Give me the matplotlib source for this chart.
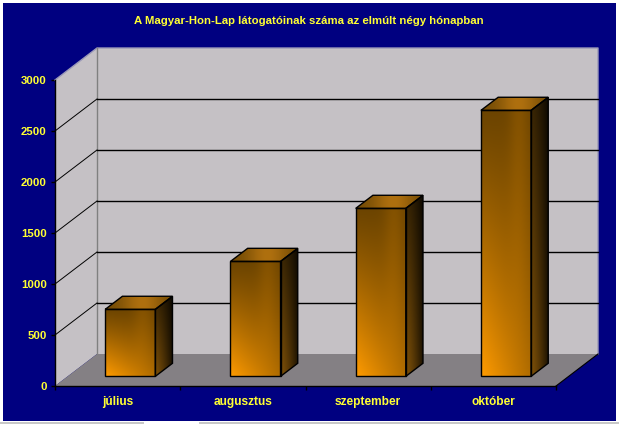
import numpy as np
import matplotlib
matplotlib.use("Agg")
import matplotlib.pyplot as plt
from matplotlib.patches import Polygon, Rectangle

months = ["július", "augusztus", "szeptember", "október"]
visitors = [657, 1127, 1647, 2608]
y_ticks = [0, 500, 1000, 1500, 2000, 2500, 3000]
title = "A Magyar-Hon-Lap látogatóinak száma az elmúlt négy hónapban"

W, H = 619, 424
NAVY = "#000080"
WALL = "#c5c1c5"
FLOOR = "#848084"
YELLOW = "#ffff33"

plt.rcParams["font.family"] = ["Liberation Sans", "DejaVu Sans"]
plt.rcParams["font.weight"] = "bold"


def box(x0, y_top, x1, y_bot):
    # pixel box -> figure fraction rect
    return [x0 / W, 1 - y_bot / H, (x1 - x0) / W, (y_bot - y_top) / H]


def lerp(a, b, t):
    a = np.array(a, dtype=float) / 255
    b = np.array(b, dtype=float) / 255
    return np.clip(a + (b - a) * t[..., None], 0, 1)


fig = plt.figure(figsize=(W / 100, H / 100), dpi=100, facecolor="white")
l, b, w, h = box(3, 3, 615.5, 420.5)
fig.add_artist(Rectangle((l, b), w, h, transform=fig.transFigure, fc=NAVY, ec="none", zorder=-2))
for x0, x1 in [(0, 144), (199, 619)]:
    l, b, w, h = box(x0, 422, x1, 424)
    fig.add_artist(Rectangle((l, b), w, h, transform=fig.transFigure, fc="#c8c8c8", ec="none", zorder=-2))

# the axes is the front plane of the 3d box
ax = fig.add_axes(box(55, 80, 556, 386))
ax.patch.set_visible(False)
ax.set_xlim(0, 4)
ax.set_ylim(0, 3000)

depth_x = 42 / 125.25
depth_y = 32 / 0.102
n = len(months)
top = y_ticks[-1]

# walls and floor
ax.add_patch(Polygon([(0, 0), (depth_x, depth_y), (depth_x, top + depth_y), (0, top)],
                     fc=WALL, ec="none", clip_on=False, zorder=1))
ax.add_patch(Rectangle((depth_x, depth_y), n, top, fc=WALL, ec="none", clip_on=False, zorder=1))
ax.add_patch(Polygon([(0, 0), (n, 0), (n + depth_x, depth_y), (depth_x, depth_y)],
                     fc=FLOOR, ec="none", clip_on=False, zorder=1.5))

# outline of the walls
ax.plot([0, depth_x, n + depth_x, n + depth_x], [top, top + depth_y, top + depth_y, depth_y],
        color="#9a98b8", lw=1, clip_on=False, zorder=2)
ax.plot([depth_x, depth_x], [depth_y, top + depth_y], color="#808080", lw=1, clip_on=False, zorder=2)
ax.plot([n, n + depth_x], [0, depth_y], color="black", lw=0.8, clip_on=False, zorder=2)

for v in y_ticks[1:-1]:
    ax.plot([0, depth_x], [v, v + depth_y], color="black", lw=0.7, clip_on=False, zorder=2)
    ax.plot([depth_x, n + depth_x], [v + depth_y, v + depth_y], color="black", lw=1, clip_on=False, zorder=2)

# bars
bar_w = 0.4
shift_x = 0.30
shift_y = 0.30
bar_depth = 0.41
u = np.linspace(0, 1, 60)
v = np.linspace(0, 1, 120)
uu, vv = np.meshgrid(u, v)
front = lerp((108, 68, 0), (255, 155, 0),
             (1 - vv) ** 1.15 * (1 - 0.55 * uu) + 0.16 * np.exp(-((uu - 0.75) / 0.2) ** 2) * vv)
side = lerp((125, 80, 8), (55, 36, 4), vv) * (1 - 0.8 * uu[..., None] ** 1.3)
roof = lerp((115, 75, 5), (175, 112, 15), np.exp(-((uu - 0.55) / 0.3) ** 2))

for i, val in enumerate(visitors):
    x0 = i + 0.5 + shift_x * depth_x - bar_w / 2
    x1 = x0 + bar_w
    y0 = shift_y * depth_y
    y1 = y0 + val
    dx = bar_depth * depth_x
    dy = bar_depth * depth_y

    im = ax.imshow(front, extent=(x0, x1, y0, y1), origin="lower", aspect="auto", zorder=3)
    p = Polygon([(x0, y0), (x1, y0), (x1, y1), (x0, y1)], fc="none", ec="black", lw=1, zorder=4)
    ax.add_patch(p)

    im = ax.imshow(side, extent=(x1, x1 + dx, y0, y1 + dy), origin="lower", aspect="auto", zorder=3)
    p = Polygon([(x1, y0), (x1 + dx, y0 + dy), (x1 + dx, y1 + dy), (x1, y1)], fc="none", ec="black", lw=1, zorder=4)
    ax.add_patch(p)
    im.set_clip_path(p)

    im = ax.imshow(roof, extent=(x0, x1 + dx, y1, y1 + dy), origin="lower", aspect="auto", zorder=3)
    p = Polygon([(x0, y1), (x1, y1), (x1 + dx, y1 + dy), (x0 + dx, y1 + dy)], fc="none", ec="black", lw=1, zorder=4)
    ax.add_patch(p)
    im.set_clip_path(p)

ax.set_xlim(0, 4)
ax.set_ylim(0, 3000)

for s in ["top", "right"]:
    ax.spines[s].set_visible(False)
for s in ["left", "bottom"]:
    ax.spines[s].set_color("black")
    ax.spines[s].set_linewidth(1)
    ax.spines[s].set_zorder(5)

ax.set_yticks(y_ticks)
ax.set_yticklabels([str(t) for t in y_ticks])
ax.set_xticks(np.arange(n + 1))
ax.set_xticklabels([])
ax.set_xticks(np.arange(n) + 0.5, minor=True)
ax.set_xticklabels(months, minor=True)
ax.tick_params(axis="y", length=3, width=1, color="black", labelcolor=YELLOW, labelsize=8.2, pad=3)
ax.tick_params(axis="x", which="major", length=3, width=1, color="black")
ax.tick_params(axis="x", which="minor", length=0, labelcolor=YELLOW, labelsize=8.6, pad=7.5)

fig.text(309 / W, 1 - 21.5 / H, title, color=YELLOW, fontsize=8.2, ha="center", va="center")

fig.savefig("out.png", dpi=100)
